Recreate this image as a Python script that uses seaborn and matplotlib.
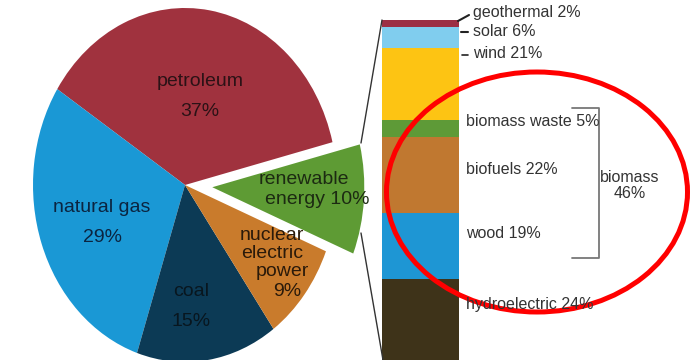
import matplotlib
matplotlib.use("Agg")
import matplotlib.pyplot as plt
from matplotlib.patches import Ellipse
import seaborn as sns

sns.set_theme(style="white")
plt.rcParams['font.family'] = ['Liberation Sans', 'DejaVu Sans']

# ---- data ----
pie_labels = ["petroleum", "natural gas", "coal", "nuclear electric power", "renewable energy"]
pie_values = [37, 29, 15, 9, 10]
pie_colors = ["#A0323E", "#1A98D5", "#0C3A55", "#C97B2C", "#5E9B34"]

ren_labels = ["geothermal", "solar", "wind", "biomass waste", "biofuels", "wood", "hydroelectric"]
ren_values = [2, 6, 21, 5, 22, 19, 24]
ren_colors = ["#9C2F44", "#80CDEE", "#FDC413", "#5E9A37", "#C07830", "#1E96D4", "#3E3319"]
biomass_total = 46

W, H = 692, 360
fig = plt.figure(figsize=(W / 100, H / 100), dpi=100)

# ---- pie (vertically stretched, as in the reference) ----
cx, cy_top, rx, ry = 185, 185, 152, 177
cy = H - cy_top
xl, yl = 1.3, 1.1
pax = fig.add_axes([(cx - xl * rx) / W, (cy - yl * ry) / H, 2 * xl * rx / W, 2 * yl * ry / H])
explode = [0, 0, 0, 0, 0.18]
pax.pie(pie_values, colors=pie_colors, explode=explode, startangle=14,
        counterclock=True, radius=1, wedgeprops=dict(linewidth=0))
pax.set_aspect("auto")
pax.set_xlim(-xl, xl)
pax.set_ylim(-yl, yl)
pax.axis("off")

# ---- stacked bar of renewable breakdown ----
bar_top, k = 20, 3.45
bax = fig.add_axes([382 / W, 0, 77 / W, (H - bar_top) / H])
cum = []
s = 0
for v in ren_values:
    s += v
    cum.append(s)
for c, col in reversed(list(zip(cum, ren_colors))):
    sns.barplot(x=["renewable"], y=[c], color=col, saturation=1, width=1,
                errorbar=None, ax=bax, linewidth=0)
bax.set_xlim(-0.5, 0.5)
bax.set_ylim((H - bar_top) / k, 0)
bax.axis("off")

# ---- overlay: labels, connectors, bracket, ellipse ----
ov = fig.add_axes([0, 0, 1, 1], zorder=5)
ov.set_xlim(0, W)
ov.set_ylim(H, 0)
ov.axis("off")
ov.patch.set_alpha(0)

fs = 14
ov.text(200, 82, "petroleum", ha="center", va="center", fontsize=fs, color="#2B1216")
ov.text(200, 112, f"{pie_values[0]}%", ha="center", va="center", fontsize=fs, color="#2B1216")
ov.text(102, 208, "natural gas", ha="center", va="center", fontsize=fs, color="#0B2440")
ov.text(102, 238, f"{pie_values[1]}%", ha="center", va="center", fontsize=fs, color="#0B2440")
ov.text(191, 292, "coal", ha="center", va="center", fontsize=fs, color="#08161F")
ov.text(191, 322, f"{pie_values[2]}%", ha="center", va="center", fontsize=fs, color="#08161F")
for txt, x, y in [("nuclear", 272, 235), ("electric", 272, 253), ("power", 282, 272),
                  (f"{pie_values[3]}%", 287, 292)]:
    ov.text(x, y, txt, ha="center", va="center", fontsize=fs, color="#2A1A0A")
ov.text(304, 180, "renewable", ha="center", va="center", fontsize=fs, color="#1C2A12")
ov.text(317, 199, f"energy {pie_values[4]}%", ha="center", va="center", fontsize=fs, color="#1C2A12")

# connector lines from exploded wedge to bar
ov.plot([361, 382], [143, 20], color="#333333", lw=1)
ov.plot([361, 383], [233, 360], color="#333333", lw=1)

rfs = 11.5
rc = "#333333"
ren_pos = [(473, 12), (473, 32), (473, 54), (466, 122), (466, 170), (466, 233), (466, 305)]
for lab, v, (x, y) in zip(ren_labels, ren_values, ren_pos):
    ov.text(x, y, f"{lab} {v}%", ha="left", va="center", fontsize=rfs, color=rc)
ov.plot([458, 469], [21, 15], color="#222222", lw=1.5)
ov.plot([461, 468], [32, 32], color="#222222", lw=1.5)
ov.plot([462, 468], [55, 55], color="#222222", lw=1.2)

# bracket for biomass
ov.plot([572, 599, 599, 572], [108, 108, 258, 258], color="#777777", lw=1.3)
ov.text(630, 177, "biomass", ha="center", va="center", fontsize=rfs, color=rc)
ov.text(630, 193, f"{biomass_total}%", ha="center", va="center", fontsize=rfs, color=rc)

ov.add_patch(Ellipse((537, 192), 301, 240, fill=False, ec="#FF0000", lw=3.6))

fig.savefig("out.png", dpi=100)
